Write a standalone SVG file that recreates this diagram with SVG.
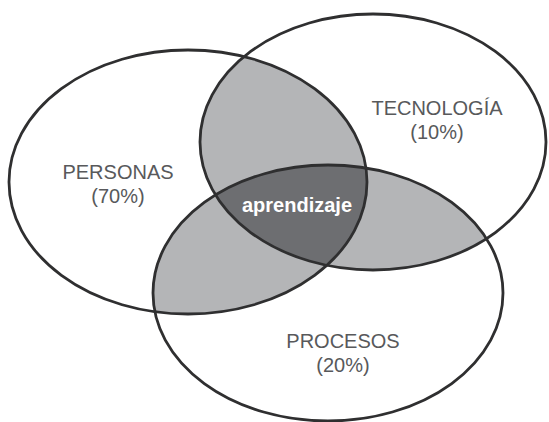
<svg xmlns="http://www.w3.org/2000/svg" width="549" height="422" viewBox="0 0 549 422">
  <style>
    .ring { fill: none; stroke: #2f2f30; stroke-width: 2.8; }
    .lbl { font-family: "Liberation Sans", Arial, sans-serif; font-size: 20px; fill: #58595b; text-anchor: middle; }
    .core { font-family: "Liberation Sans", Arial, sans-serif; font-size: 20px; font-weight: bold; fill: #ffffff; text-anchor: middle; }
    .pair { fill: #b4b5b7; }
    .triple { fill: #6d6e71; }
  </style>
  <defs>
    <ellipse id="eP" cx="188" cy="182" rx="179" ry="132"/>
    <ellipse id="eT" cx="373" cy="142" rx="173" ry="128"/>
    <ellipse id="eR" cx="328" cy="293" rx="175" ry="128"/>
    <clipPath id="cP"><use href="#eP"/></clipPath>
    <clipPath id="cT"><use href="#eT"/></clipPath>
    <clipPath id="cR"><use href="#eR"/></clipPath>
  </defs>
  <rect width="549" height="422" fill="#ffffff"/>
  <g id="overlaps">
    <use href="#eT" class="pair" clip-path="url(#cP)"/>
    <use href="#eR" class="pair" clip-path="url(#cP)"/>
    <use href="#eR" class="pair" clip-path="url(#cT)"/>
    <g clip-path="url(#cP)">
      <use href="#eR" class="triple" clip-path="url(#cT)"/>
    </g>
  </g>
  <g id="personas">
    <use href="#eP" class="ring"/>
    <text class="lbl" x="118" y="179">PERSONAS</text>
    <text class="lbl" x="118" y="203">(70%)</text>
  </g>
  <g id="tecnologia">
    <use href="#eT" class="ring"/>
    <text class="lbl" x="437" y="115">TECNOLOGÍA</text>
    <text class="lbl" x="437" y="139">(10%)</text>
  </g>
  <g id="procesos">
    <use href="#eR" class="ring"/>
    <text class="lbl" x="343" y="348">PROCESOS</text>
    <text class="lbl" x="343" y="372">(20%)</text>
  </g>
  <g id="aprendizaje">
    <text class="core" x="297" y="212">aprendizaje</text>
  </g>
</svg>
